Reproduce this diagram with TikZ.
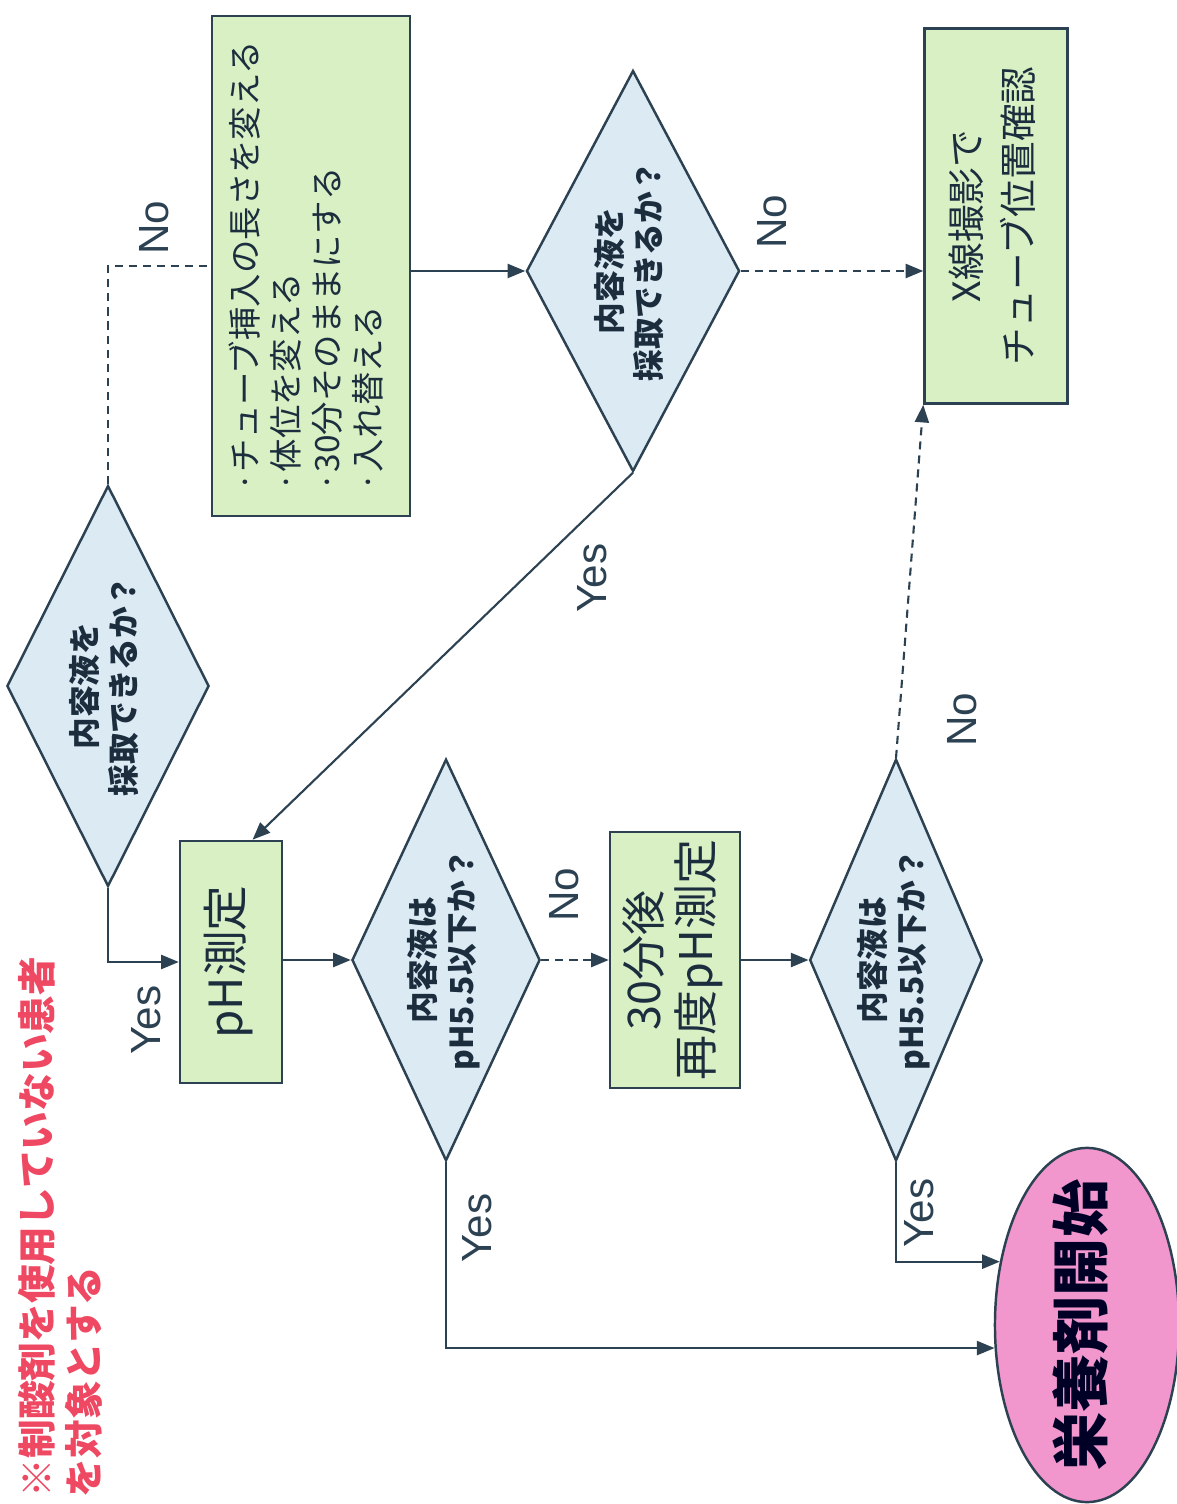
\documentclass[tikz,border=0pt]{standalone}
\usepackage{fontspec}
\usetikzlibrary{shapes.geometric,arrows.meta}
\setmainfont{Noto Sans CJK JP}
\newfontfamily\latinsans{Liberation Sans}
\definecolor{linecol}{RGB}{44,66,82}
\definecolor{boxgreen}{RGB}{216,240,196}
\definecolor{diablue}{RGB}{220,234,244}
\definecolor{startpink}{RGB}{242,150,206}
\definecolor{notered}{RGB}{238,72,98}
\definecolor{textcol}{RGB}{28,46,62}
\newcommand{\vtext}[2][c]{\rotatebox{90}{\begin{tabular}{@{}#1@{}}#2\end{tabular}}}

\begin{document}
\begin{tikzpicture}[x=0.01cm,y=-0.01cm]
\tikzset{every node/.style={text=textcol}}
\tikzset{stepbox/.style={draw=linecol,fill=boxgreen,line width=0.7pt,inner sep=0pt}}
\tikzset{question/.style={diamond,aspect=0.43,draw=linecol,fill=diablue,line width=0.7pt,inner sep=0pt,font=\fontsize{9}{11}\selectfont\bfseries}}
\tikzset{flow/.style={draw=linecol,line width=0.6pt,-{Triangle[length=5pt,width=4pt]}}}
\tikzset{maybe/.style={flow,dash pattern=on 2.3pt off 1.7pt}}
\tikzset{answer/.style={font=\latinsans\fontsize{12}{12}\selectfont,text=linecol,inner sep=0pt}}

\useasboundingbox (0,0) rectangle (1176,1504);

\node (note) [anchor=south,inner sep=0pt,text=notered,font=\fontsize{11}{13}\selectfont\bfseries] at (65,1498) {\vtext[l]{※制酸剤を使用していない患者\\を対象とする}};

\node (B1) [stepbox,minimum width=1.98cm,minimum height=5.0cm,font=\fontsize{9.5}{11.7}\selectfont] at (311,266) {\vtext[l]{·チューブ挿入の長さを変える\\·体位を変える\\·30分そのままにする\\·入れ替える}};
\node (D1) [question,minimum width=2.02cm,minimum height=3.98cm] at (108,686) {\vtext{内容液を\\採取できるか？}};
\node (D4) [question,minimum width=2.13cm,minimum height=3.98cm] at (633,271) {\vtext{内容液を\\採取できるか？}};
\node (X1) [stepbox,minimum width=1.43cm,minimum height=3.75cm,font=\fontsize{10.7}{15}\selectfont] at (996,216) {\vtext{X線撮影で\\チューブ位置確認}};
\node (P1) [stepbox,minimum width=1.02cm,minimum height=2.42cm,font=\fontsize{13}{15}\selectfont] at (231,962) {\vtext{pH測定}};
\node (D2) [question,minimum width=1.88cm,minimum height=3.98cm] at (446,960) {\vtext{内容液は\\pH5.5以下か？}};
\node (P2) [stepbox,minimum width=1.30cm,minimum height=2.56cm,font=\fontsize{12.8}{14}\selectfont] at (675,960) {\vtext{30分後\\再度pH測定}};
\node (D3) [question,minimum width=1.72cm,minimum height=3.98cm] at (896,960) {\vtext{内容液は\\pH5.5以下か？}};
\node (E1) [ellipse,draw=linecol,fill=startpink,line width=0.7pt,minimum width=1.84cm,minimum height=3.54cm,inner sep=-8pt,font=\fontsize{16.5}{18}\selectfont\bfseries,text=black!85!blue] at (1087,1325) {\vtext{栄養剤開始}};

\draw[maybe,-] (D1.north) |- (B1.west);
\draw[flow] (D1.south) |- (P1.west);
\draw[flow] (B1.east |- D4.west) -- (D4.west);
\draw[maybe] (D4.east) -- (D4.east -| X1.west);
\draw[flow] (D4.south) -- (P1.80);
\draw[flow] (P1.east |- D2.west) -- (D2.west);
\draw[maybe] (D2.east) -- (P2.west);
\draw[flow] (P2.east) -- (D3.west);
\draw[maybe] (D3.north) -- (X1.south west);
\draw[flow] (D2.south) |- (E1.194);
\draw[flow] (D3.south) |- (E1.144);

\node (noA) [answer] at (160,228) {\vtext{No}};
\node (yesA) [answer] at (152,1020) {\vtext{Yes}};
\node (yesB) [answer] at (598,578) {\vtext{Yes}};
\node (noB) [answer] at (778,222) {\vtext{No}};
\node (noC) [answer] at (570,895) {\vtext{No}};
\node (yesC) [answer] at (483,1228) {\vtext{Yes}};
\node (yesD) [answer] at (925,1213) {\vtext{Yes}};
\node (noD) [answer] at (968,720) {\vtext{No}};

\end{tikzpicture}
\end{document}
